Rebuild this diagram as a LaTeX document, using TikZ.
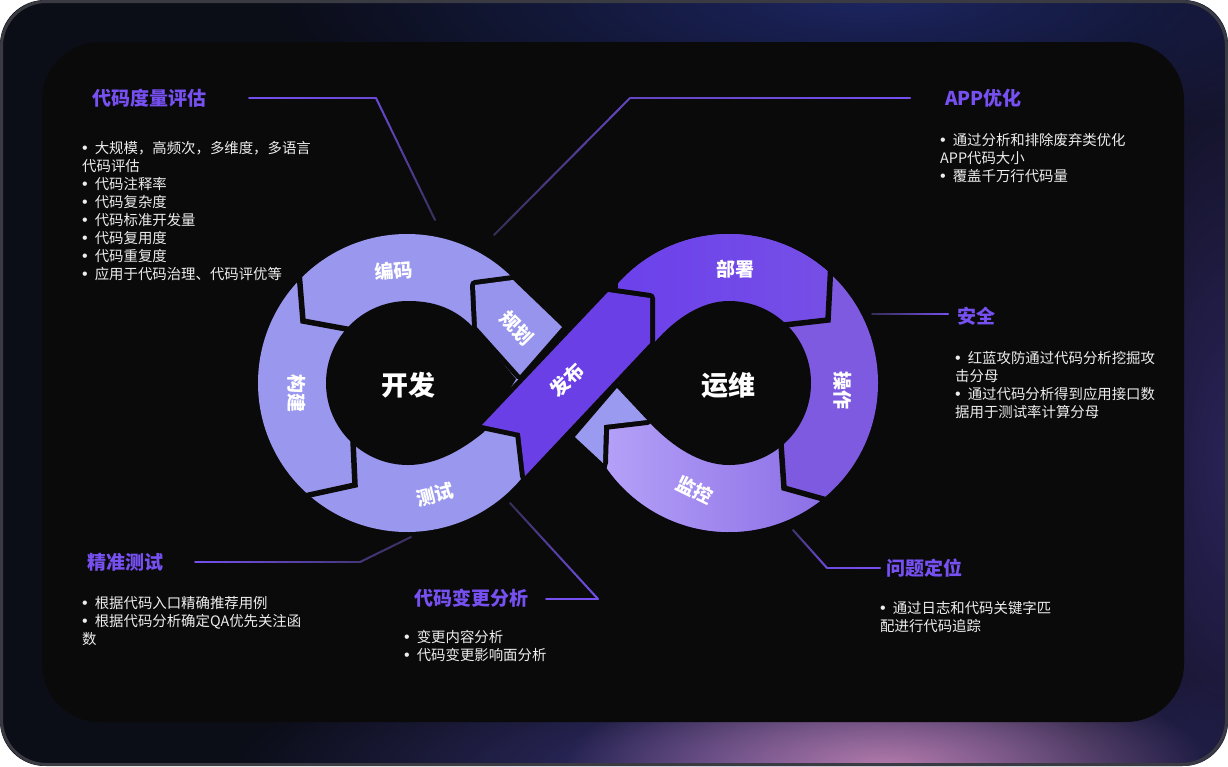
\documentclass[tikz,border=0pt]{standalone}
\usepackage{fontspec}
\newfontfamily\cjk{Noto Sans CJK SC}
\newfontfamily\latin{Liberation Sans}
\usetikzlibrary{calc,fadings}

\definecolor{framebg}{HTML}{0B0D17}
\definecolor{framerim}{HTML}{3A3A42}
\definecolor{bgpanel}{HTML}{0A0A0A}
\definecolor{glowpink}{HTML}{B27AAA}
\definecolor{glowblue}{HTML}{38337A}
\definecolor{glownavy}{HTML}{1C2560}
\definecolor{glowside}{HTML}{2A2358}
\definecolor{devfill}{HTML}{9997EE}
\definecolor{planfill}{HTML}{9694EC}
\definecolor{stubfill}{HTML}{9A9BF0}
\definecolor{relfill}{HTML}{6A3FE6}
\definecolor{deployA}{HTML}{6B40EC}
\definecolor{deployB}{HTML}{7953E4}
\definecolor{opsfill}{HTML}{7D5AE0}
\definecolor{monA}{HTML}{B4A0F7}
\definecolor{monB}{HTML}{7E5FE0}
\definecolor{accent}{HTML}{7650F0}
\definecolor{wiredim}{HTML}{2C283C}
\definecolor{bodytxt}{HTML}{EDEDED}

\tikzfading[name=glowfade, inner color=transparent!0, outer color=transparent!100]

% 列表圆点
\newcommand\bul{{\latin\fontsize{16}{18}\selectfont •}\hspace{7pt}}

% 渐变连线：把一段直线切成 14 小段，颜色从 #3 过渡到 #4（accent 的百分比）
\newcommand\fadeseg[4]{%
  \foreach \k in {1,...,14}{%
    \pgfmathsetmacro\fa{(\k-1)/14}%
    \pgfmathsetmacro\fb{\k/14}%
    \pgfmathsetmacro\fc{#3+(#4-#3)*(\k-0.5)/14}%
    \draw[wire, draw=accent!\fc!wiredim] ($(#1)!\fa!(#2)$) -- ($(#1)!\fb!(#2)$);
  }}

\begin{document}
\begin{tikzpicture}[x=1pt, y=-1pt, line cap=round, line join=round,
    seam/.style={draw=bgpanel, line width=5.5pt, line cap=butt, line join=miter},
    piece/.style={preaction={draw=bgpanel, fill=bgpanel, line width=10pt}},
    wire/.style={line width=2pt},
    glow/.style={path fading=glowfade},
    hublabel/.style={text=white, inner sep=0pt, font=\cjk\bfseries\fontsize{27}{30}\selectfont},
    seglabel/.style={text=white, inner sep=0pt, font=\cjk\bfseries\fontsize{19}{22}\selectfont},
    headline/.style={anchor=west, text=accent, inner sep=0pt, font=\cjk\bfseries\fontsize{19}{22}\selectfont},
    notes/.style={anchor=north west, text=bodytxt, inner sep=0pt, align=left, font=\cjk\fontsize{14.4}{18}\selectfont}]

  %% ════ 外框与背景光晕 ════
  \begin{scope}
    \clip[rounded corners=45pt] (0,0) rectangle (1228,766);
    \fill[framebg] (0,0) rectangle (1228,766);
    \fill[glownavy, glow] (870,0) ellipse [x radius=600, y radius=150];
    \fill[glowside, glow] (1228,460) ellipse [x radius=170, y radius=520];
    \fill[glowblue, glow] (790,772) ellipse [x radius=560, y radius=140];
    \fill[glowpink, glow] (885,766) ellipse [x radius=320, y radius=100];
  \end{scope}
  \fill[bgpanel, rounded corners=58pt] (42,42) rectangle (1184,722);
  \draw[framerim, line width=3pt, rounded corners=45pt] (1.5,1.5) rectangle (1226.5,764.5);

  %% ════ 左环：开发 ════
  \fill[devfill] (407,383) ++(-42:149) arc[start angle=-42, end angle=-322, radius=149] -- cycle;
  \draw[seam] (299,272) -- (303,321) -- (352,330);
  \draw[seam] (300,497) -- (355,485) -- (353,441);
  \fill[bgpanel] (516,379) -- (472,326) .. controls (452,306) and (430,301) .. (408,301)
    arc[start angle=270, end angle=90, radius=82]
    .. controls (436,465) and (462,450) .. (484,432) -- cycle;

  %% ════ 右环：运维（操作打底，部署/监控裁切后覆盖）════
  \fill[opsfill] (729,383) ++(-138:149) arc[start angle=-138, end angle=145, radius=149] -- cycle;
  \begin{scope}
    \clip (560,150) -- (840,150) -- (831,262) -- (828,320) -- (784,325) -- (729,383) -- (560,383) -- cycle;
    \shade[left color=deployA, right color=deployB] (729,383) ++(-138:149) arc[start angle=-138, end angle=145, radius=149] -- cycle;
  \end{scope}
  \begin{scope}
    \clip (560,383) -- (729,383) -- (781,444) -- (784,488) -- (834,502) -- (860,620) -- (560,620) -- cycle;
    \shade[left color=monA, right color=monB] (729,383) ++(-138:149) arc[start angle=-138, end angle=145, radius=149] -- cycle;
  \end{scope}
  \draw[seam] (831,262) -- (828,320) -- (784,325);
  \draw[seam] (834,502) -- (784,488) -- (781,444);
  \fill[bgpanel] (618,382) -- (655,342) .. controls (676,318) and (702,301) .. (729,301)
    arc[start angle=270, end angle=450, radius=82]
    .. controls (700,465) and (672,446) .. (651,424) -- cycle;

  %% ════ 交叉处的三块 ════
  \fill[planfill, piece] (475,285) -- (513,280) -- (562,327) -- (520,375) -- (477,327) -- cycle;
  \fill[stubfill, piece] (617,388) -- (647,420) -- (604,425) -- (603,463) -- (575,437) -- cycle;
  \fill[relfill, piece] (482,425) -- (608,292) -- (650,298) -- (650,343) -- (525,476) -- (520,433) -- cycle;

  %% ════ 环上文字 ════
  \node[hublabel] (dev) at (408,385) {开发};
  \node[hublabel] (ops) at (728,385) {运维};
  \node[seglabel, rotate=5] (code) at (394,271) {编码};
  \node[seglabel, rotate=-90] (build) at (297,393) {构建};
  \node[seglabel, rotate=14] (test) at (435,495) {测试};
  \node[seglabel, rotate=-45] (plan) at (517,328) {规划};
  \node[seglabel, rotate=45] (release) at (567,380) {发布};
  \node[seglabel] (deploy) at (735,269) {部署};
  \node[seglabel, rotate=-90] (operate) at (843,390) {操作};
  \node[seglabel, rotate=-26] (monitor) at (695,490) {监控};

  %% ════ 六组说明 ════
  \node[headline] (metric) at (92,98) {代码度量评估};
  \node[notes] (metricnotes) at (82,141) {\bul 大规模，高频次，多维度，多语言\\代码评估\\\bul 代码注释率\\\bul 代码复杂度\\\bul 代码标准开发量\\\bul 代码复用度\\\bul 代码重复度\\\bul 应用于代码治理、代码评优等};

  \node[headline] (app) at (945,98) {APP优化};
  \node[notes] (appnotes) at (940,133) {\bul 通过分析和排除废弃类优化\\APP代码大小\\\bul 覆盖千万行代码量};

  \node[headline] (sec) at (957,316) {安全};
  \node[notes] (secnotes) at (955,351) {\bul 红蓝攻防通过代码分析挖掘攻\\击分母\\\bul 通过代码分析得到应用接口数\\据用于测试率计算分母};

  \node[headline] (qa) at (87,562) {精准测试};
  \node[notes] (qanotes) at (82,596) {\bul 根据代码入口精确推荐用例\\\bul 根据代码分析确定QA优先关注函\\数};

  \node[headline] (diff) at (414,598) {代码变更分析};
  \node[notes] (diffnotes) at (404,630) {\bul 变更内容分析\\\bul 代码变更影响面分析};

  \node[headline] (trace) at (886,568) {问题定位};
  \node[notes] (tracenotes) at (880,601) {\bul 通过日志和代码关键字匹\\配进行代码追踪};

  %% ════ 连线（端点与折点）════
  \coordinate (w1a) at (249,98);  \coordinate (w1b) at (376,98);  \coordinate (w1c) at (435,220);
  \coordinate (w2a) at (910,98);  \coordinate (w2b) at (630,98);  \coordinate (w2c) at (494,235);
  \coordinate (w3a) at (948,314); \coordinate (w3b) at (872,314);
  \coordinate (w4a) at (195,562); \coordinate (w4b) at (360,562); \coordinate (w4c) at (411,537);
  \coordinate (w5a) at (546,599); \coordinate (w5b) at (598,599); \coordinate (w5c) at (510,503);
  \coordinate (w6a) at (880,568); \coordinate (w6b) at (827,568); \coordinate (w6c) at (793,530);

  \fadeseg{w1a}{w1b}{100}{85} \fadeseg{w1b}{w1c}{85}{20}
  \fadeseg{w2a}{w2b}{100}{75} \fadeseg{w2b}{w2c}{75}{15}
  \fadeseg{w3a}{w3b}{100}{15}
  \fadeseg{w4a}{w4b}{100}{35} \fadeseg{w4b}{w4c}{35}{20}
  \fadeseg{w5a}{w5b}{100}{100} \fadeseg{w5b}{w5c}{100}{15}
  \fadeseg{w6a}{w6b}{100}{90} \fadeseg{w6b}{w6c}{90}{30}

  % 钉死画布
  \pgfresetboundingbox
  \path[use as bounding box] (0,0) rectangle (1228,766);
\end{tikzpicture}
\end{document}
